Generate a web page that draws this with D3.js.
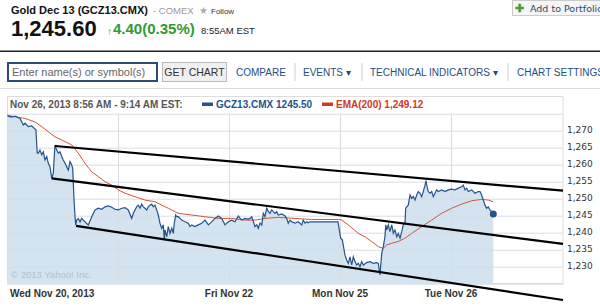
<!DOCTYPE html>
<html>
<head>
<meta charset="utf-8">
<script src="https://cdn.jsdelivr.net/npm/d3@7"></script>
<style>
  body { margin: 0; background: #fff; }
  svg { display: block; font-family: "Liberation Sans", Arial, sans-serif; }
</style>
</head>
<body>
<svg id="chart" width="600" height="308"></svg>
<script>
// x values: position in trading sessions, 100 = one day (Wed Nov 20 = 0)
var dayTicks = [0, 100, 200, 300, 400];
var dayLabels = ["Wed Nov 20, 2013", "", "Fri Nov 22", "Mon Nov 25", "Tue Nov 26"];
var priceTicks = [1230, 1235, 1240, 1245, 1250, 1255, 1260, 1265, 1270];

// GCZ13.CMX price
var price = [[0.6,1274.3],[4.5,1274.0],[7.2,1274.3],[9.9,1273.9],[11.7,1273.6],[14.7,1271.7],[16.2,1272.2],[19.2,1271.2],[22.3,1271.4],[24.6,1270.7],[26.1,1270.2],[26.8,1265.8],[27.3,1263.4],[28.2,1263.4],[29.7,1264.3],[31.3,1262.9],[32.7,1263.8],[34.2,1261.4],[35.8,1262.4],[37.2,1260.4],[38.7,1259.4],[40.3,1256.0],[41.7,1257.5],[43.2,1265.8],[44.8,1264.3],[46.2,1263.4],[47.7,1263.8],[49.3,1262.4],[50.7,1261.4],[52.3,1260.4],[53.8,1259.4],[55.2,1258.4],[56.8,1260.9],[58.3,1259.9],[59.2,1258.9],[60.4,1249.6],[61.3,1244.7],[61.9,1242.3],[62.8,1243.7],[64.2,1244.2],[65.8,1243.2],[67.3,1244.2],[68.7,1243.7],[70.3,1243.2],[73.2,1242.3],[76.3,1244.7],[79.3,1246.7],[82.3,1247.2],[85.3,1246.9],[88.3,1247.6],[91.3,1247.9],[94.3,1247.5],[97.3,1246.9],[100.3,1246.7],[103.3,1247.2],[106.3,1247.4],[109.3,1246.7],[112.3,1244.2],[113.8,1245.7],[115.3,1246.7],[116.8,1247.6],[118.3,1248.1],[119.8,1247.2],[121.4,1248.4],[122.8,1247.6],[124.3,1247.2],[125.9,1246.7],[127.3,1247.6],[128.8,1248.1],[130.4,1248.4],[131.8,1247.6],[133.3,1248.1],[134.9,1246.7],[136.3,1245.2],[137.8,1242.8],[139.4,1241.3],[140.8,1242.3],[141.7,1237.9],[142.3,1240.8],[143.9,1238.8],[145.3,1241.8],[146.8,1239.8],[148.4,1241.3],[149.8,1239.8],[150.7,1242.8],[152.0,1245.2],[152.9,1244.7],[154.3,1244.7],[157.4,1243.7],[160.4,1243.2],[163.3,1242.8],[164.9,1241.8],[166.4,1242.3],[169.4,1241.8],[172.3,1242.3],[175.4,1242.8],[178.4,1243.7],[181.4,1242.3],[184.4,1243.2],[187.4,1244.2],[190.4,1244.9],[193.4,1244.2],[196.4,1242.3],[199.4,1243.2],[202.4,1243.7],[205.4,1243.2],[208.4,1244.9],[211.4,1243.7],[214.4,1244.2],[217.4,1244.0],[218.9,1244.2],[220.5,1244.7],[223.4,1241.8],[225.0,1242.3],[226.4,1241.3],[227.9,1242.8],[229.5,1242.3],[230.9,1245.7],[232.4,1244.7],[234.0,1247.2],[235.4,1246.2],[236.9,1245.7],[238.5,1246.7],[239.9,1246.2],[241.4,1245.7],[243.0,1246.2],[244.4,1245.2],[247.5,1245.5],[250.5,1244.9],[252.0,1244.2],[253.4,1242.8],[254.9,1243.7],[256.5,1243.2],[259.5,1242.8],[262.4,1243.2],[265.5,1242.3],[266.9,1243.7],[268.5,1242.8],[270.0,1243.2],[271.4,1242.9],[273.0,1243.2],[298.2,1243.2],[300.6,1238.4],[302.1,1237.9],[304.5,1233.4],[306.0,1232.0],[307.5,1231.0],[309.0,1232.9],[310.5,1230.5],[312.0,1232.9],[313.5,1231.5],[315.0,1230.5],[316.5,1231.0],[318.0,1230.0],[319.5,1231.5],[321.0,1230.5],[324.0,1231.2],[327.0,1231.5],[330.0,1231.0],[333.1,1231.2],[334.5,1231.0],[336.0,1227.6],[337.6,1233.9],[339.0,1235.9],[340.5,1238.8],[341.2,1242.3],[342.1,1240.8],[343.5,1242.3],[345.0,1240.3],[346.6,1242.3],[348.0,1239.8],[349.5,1240.8],[351.1,1238.8],[352.5,1239.8],[354.1,1238.4],[355.6,1240.3],[357.0,1242.3],[358.6,1243.2],[359.2,1247.2],[360.1,1247.6],[361.5,1248.1],[363.1,1251.1],[364.6,1250.1],[366.0,1250.6],[367.6,1249.6],[369.1,1251.1],[370.5,1252.1],[372.1,1251.6],[373.6,1250.6],[375.0,1252.1],[376.6,1254.0],[377.5,1255.3],[378.1,1254.0],[379.5,1252.1],[381.1,1251.6],[382.6,1252.1],[384.1,1250.6],[385.6,1251.6],[387.1,1252.6],[388.6,1252.1],[391.6,1252.6],[394.6,1252.1],[397.6,1252.6],[400.6,1252.8],[403.6,1252.6],[406.6,1253.1],[409.6,1253.5],[411.1,1254.0],[412.6,1252.6],[414.1,1253.1],[415.6,1252.1],[418.6,1252.6],[421.6,1251.6],[424.6,1252.1],[426.1,1252.1],[427.6,1251.1],[429.1,1249.6],[430.6,1248.1],[432.2,1247.2],[433.6,1247.6],[435.1,1246.7],[436.7,1246.2],[438.1,1245.5]];

// EMA(200)
var ema = [[0,1274.6],[7.2,1274.1],[16.2,1273.6],[25.2,1272.6],[31.3,1271.2],[37.2,1269.7],[43.2,1268.2],[52.3,1266.8],[58.3,1265.8],[64.2,1263.4],[70.3,1260.4],[76.3,1257.9],[82.3,1256.5],[88.3,1255.0],[94.3,1254.0],[100.3,1252.6],[106.3,1251.6],[115.3,1250.6],[124.3,1249.6],[133.3,1249.1],[139.4,1248.1],[145.3,1247.2],[154.3,1245.7],[166.4,1245.2],[178.4,1244.7],[190.4,1244.2],[202.4,1244.2],[214.4,1243.7],[223.4,1243.7],[232.4,1244.2],[244.4,1244.5],[259.5,1244.2],[274.5,1243.9],[298.5,1243.9],[301.5,1243.7],[307.5,1242.3],[316.5,1239.8],[322.5,1238.8],[328.6,1237.4],[334.5,1235.9],[339.0,1235.4],[342.1,1236.4],[346.6,1236.9],[352.5,1237.4],[358.6,1238.4],[364.6,1239.8],[373.6,1241.8],[382.6,1243.7],[391.6,1245.7],[400.6,1247.2],[409.6,1248.4],[418.6,1249.4],[427.6,1249.8],[433.6,1249.6],[438.1,1249.1]];

// hand drawn channel lines [x0, p0, x1, p1]
var trendLines = [[43.2,1265.5,500.9,1252.35],[40.3,1256.0,500.9,1236.7],[62.2,1242.0,500.9,1220.2]];

var navItems = ["COMPARE", "EVENTS \u25BE", "TECHNICAL INDICATORS \u25BE", "CHART SETTINGS"];

var svg = d3.select("#chart");
var blue = "#24538a", red = "#cf3a22";

var x = d3.scaleLinear().domain([0, 500]).range([7, 562]);
var y = d3.scaleLinear().domain([1225, 1275]).range([283.7, 113.7]);

// ---- header ----
svg.append("text").attr("x", 11).attr("y", 14)
    .style("font-size", "11px").style("font-weight", "bold").attr("fill", "#111")
    .text("Gold Dec 13 (GCZ13.CMX)");
svg.append("text").attr("x", 153).attr("y", 14)
    .style("font-size", "9.5px").attr("fill", "#999").text("- COMEX");
svg.append("text").attr("x", 199).attr("y", 14)
    .style("font-size", "10px").attr("fill", "#aaa").text("\u2605");
svg.append("text").attr("x", 211).attr("y", 13.5)
    .style("font-size", "8px").attr("fill", "#333").text("Follow");

svg.append("text").attr("x", 11).attr("y", 35.5)
    .style("font-size", "22px").style("font-weight", "bold").attr("fill", "#111")
    .text("1,245.60");
svg.append("text").attr("x", 107).attr("y", 34.5)
    .style("font-size", "10px").style("font-weight", "bold").attr("fill", "#2f9a35").text("\u2191");
svg.append("text").attr("x", 113).attr("y", 34)
    .style("font-size", "15px").style("font-weight", "bold").attr("fill", "#2f9a35")
    .text("4.40(0.35%)");
svg.append("text").attr("x", 201).attr("y", 33.5)
    .style("font-size", "9.5px").attr("fill", "#222").text("8:55AM EST");

// add to portfolio button
svg.append("rect").attr("x", 512.5).attr("y", 0.5).attr("width", 95).attr("height", 15)
    .attr("fill", "#f5f5f5").attr("stroke", "#ccc");
svg.append("text").attr("x", 515).attr("y", 12)
    .style("font-size", "11px").style("font-weight", "bold").attr("fill", "#4a9a3a").text("\u271A");
svg.append("text").attr("x", 530).attr("y", 12)
    .style("font-family", "DejaVu Sans").style("font-size", "9.5px").attr("fill", "#2b4a6b")
    .text("Add to Portfolio");

svg.append("line").attr("x1", 0).attr("x2", 600).attr("y1", 51.3).attr("y2", 51.3)
    .attr("stroke", "#222").attr("stroke-width", 1.6);

// ---- search / nav row ----
svg.append("rect").attr("x", 8).attr("y", 63).attr("width", 149).attr("height", 18)
    .attr("fill", "#fff").attr("stroke", "#2d4b78").attr("stroke-width", 2);
svg.append("text").attr("x", 12).attr("y", 76)
    .style("font-size", "11px").attr("fill", "#666").text("Enter name(s) or symbol(s)");
svg.append("rect").attr("x", 162.5).attr("y", 62.5).attr("width", 64).attr("height", 19)
    .attr("fill", "#f0f0f0").attr("stroke", "#bbb");
svg.append("text").attr("x", 194.5).attr("y", 75.5).attr("text-anchor", "middle")
    .style("font-size", "10.5px").attr("fill", "#333").text("GET CHART");

var navX = [236, 303, 370, 517];
svg.selectAll(".nav").data(navItems).enter().append("text")
    .attr("class", "nav")
    .attr("x", (d, i) => navX[i]).attr("y", 75.5)
    .style("font-size", "10px").attr("fill", "#1f4d82")
    .text(d => d);
svg.selectAll(".sep").data([295, 362, 508]).enter().append("line")
    .attr("x1", d => d).attr("x2", d => d).attr("y1", 63).attr("y2", 81)
    .attr("stroke", "#d0d0d0");
svg.append("line").attr("x1", 0).attr("x2", 600).attr("y1", 88.5).attr("y2", 88.5)
    .attr("stroke", "#ddd");

// ---- legend row ----
svg.append("rect").attr("x", 7.5).attr("y", 96.5).attr("width", 555.5).attr("height", 187)
    .attr("fill", "none").attr("stroke", "#ddd");
svg.append("text").attr("x", 10).attr("y", 108)
    .style("font-size", "10px").style("font-weight", "bold").attr("fill", "#555")
    .text("Nov 26, 2013 8:56 AM - 9:14 AM EST:");
svg.append("rect").attr("x", 202).attr("y", 102.5).attr("width", 11).attr("height", 3.5).attr("fill", blue);
svg.append("text").attr("x", 216).attr("y", 108)
    .style("font-size", "10px").style("font-weight", "bold").attr("fill", blue)
    .text("GCZ13.CMX 1245.50");
svg.append("rect").attr("x", 322).attr("y", 102.5).attr("width", 11).attr("height", 3.5).attr("fill", red);
svg.append("text").attr("x", 336).attr("y", 108)
    .style("font-size", "10px").style("font-weight", "bold").attr("fill", red)
    .text("EMA(200) 1,249.12");

// ---- plot ----
var area = d3.area().x(d => x(d[0])).y0(y(1225)).y1(d => y(d[1]));
svg.append("path").datum(price).attr("d", area).attr("fill", "#d3e3f0");

// grid on top of the fill
svg.selectAll(".hgrid").data(d3.range(1225, 1276, 5)).enter().append("line")
    .attr("x1", 7).attr("x2", 563)
    .attr("y1", d => y(d) + 0.5).attr("y2", d => y(d) + 0.5)
    .attr("stroke", "#d8dde2");
svg.selectAll(".vgrid").data(dayTicks.slice(1)).enter().append("line")
    .attr("x1", d => Math.round(x(d)) + 0.5).attr("x2", d => Math.round(x(d)) + 0.5)
    .attr("y1", 113.7).attr("y2", 283.7)
    .attr("stroke", "#d8dde2");

svg.append("text").attr("x", 11).attr("y", 277.5)
    .style("font-size", "9.5px").attr("fill", "#aebfd0").text("\u00A9 2013 Yahoo! Inc.");

var line = d3.line().x(d => x(d[0])).y(d => y(d[1]));
svg.append("path").datum(ema).attr("d", line)
    .attr("fill", "none").attr("stroke", "#d9533b").attr("stroke-width", 1);
svg.append("path").datum(price).attr("d", line)
    .attr("fill", "none").attr("stroke", blue).attr("stroke-width", 1.2);

var last = price[price.length - 1];
svg.append("circle").attr("cx", x(last[0])).attr("cy", y(last[1])).attr("r", 3.5).attr("fill", blue);

svg.selectAll(".trend").data(trendLines).enter().append("line")
    .attr("x1", d => x(d[0])).attr("y1", d => y(d[1]))
    .attr("x2", d => x(d[2])).attr("y2", d => y(d[3]))
    .attr("stroke", "#000").attr("stroke-width", 2.2);

// y axis labels
svg.selectAll(".ylab").data(priceTicks).enter().append("text")
    .attr("x", 567).attr("y", d => y(d) + 2.5)
    .style("font-family", "DejaVu Sans").style("font-size", "9px").attr("fill", "#333")
    .text(d => d3.format(",")(d));

// x axis labels
svg.selectAll(".xlab").data(dayTicks).enter().append("text")
    .attr("x", (d, i) => i == 0 ? 10 : x(d))
    .attr("y", 296.5)
    .attr("text-anchor", (d, i) => i == 0 ? "start" : "middle")
    .style("font-size", "10px").style("font-weight", "bold").attr("fill", "#333")
    .text((d, i) => dayLabels[i]);
</script>
</body>
</html>
